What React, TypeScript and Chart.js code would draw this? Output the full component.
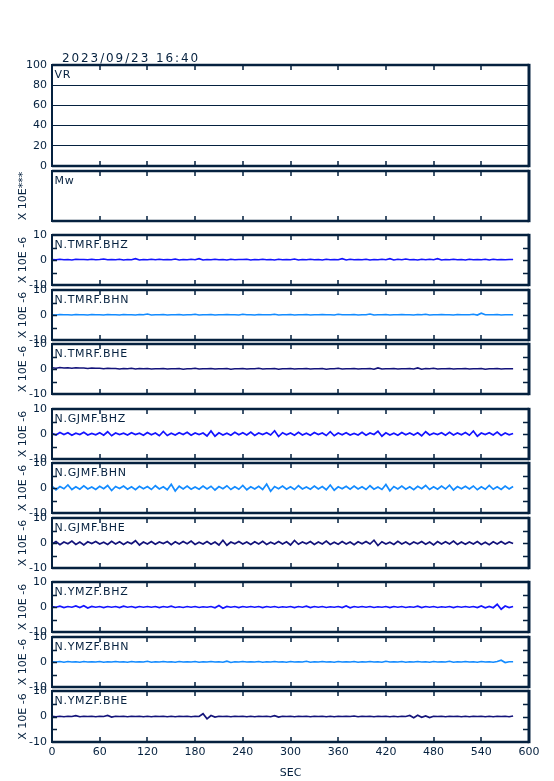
import React, { useEffect, useRef } from 'react';
import { Chart, registerables } from 'chart.js';

Chart.register(...registerables);

// ---------- text / tick data ----------
const TITLE_TEXT = '2023/09/23 16:40';
const X_AXIS_TITLE = 'SEC';
const X_TICK_VALUES = [0, 60, 120, 180, 240, 300, 360, 420, 480, 540, 600];
const VR_TICK_VALUES = [0, 20, 40, 60, 80, 100];
const SEIS_TICK_VALUES = [-10, -5, 0, 5, 10];
const SEIS_INNER_TICKS = [-5, 0, 5];
const VR_LABEL = 'VR';
const MW_LABEL = 'Mw';
const MW_UNIT = 'X 10E***';
const SEIS_UNIT = 'X 10E -6';
const SAMPLE_STEP_SEC = 5;
const CHANNELS = [
  'N.TMRF.BHZ', 'N.TMRF.BHN', 'N.TMRF.BHE',
  'N.GJMF.BHZ', 'N.GJMF.BHN', 'N.GJMF.BHE',
  'N.YMZF.BHZ', 'N.YMZF.BHN', 'N.YMZF.BHE',
];

// ---------- waveform values (X 10E-6), one sample every 5 s ----------
const TMRF_BHZ = [
  0.2,0.1,0.3,0.1,0.2,0.0,0.3,0.2,0.2,0.1,0.3,0.1,0.2,
  0.4,0.1,0.2,0.1,0.3,0.0,0.2,0.1,0.5,0.0,0.2,0.1,0.3,
  0.1,0.3,0.1,0.2,0.1,0.4,0.0,0.2,0.1,0.3,0.1,0.5,0.0,
  0.2,0.1,0.3,0.1,0.2,0.0,0.3,0.1,0.2,0.2,0.3,0.0,0.2,
  0.1,0.3,0.1,0.2,0.0,0.3,0.1,0.2,0.1,0.4,0.0,0.2,0.1,
  0.3,0.1,0.2,0.0,0.3,0.1,0.2,0.1,0.5,0.0,0.3,0.1,0.2,
  0.1,0.3,0.0,0.2,0.1,0.3,0.1,0.5,0.0,0.3,0.1,0.4,0.1,
  0.2,0.0,0.3,0.1,0.3,0.1,0.5,0.0,0.2,0.1,0.3,0.1,0.2,
  0.0,0.3,0.1,0.2,0.1,0.3,0.0,0.3,0.1,0.2,0.1,0.2,0.2,
];
const TMRF_BHN = [
  0.1,0.0,0.2,0.1,0.1,0.0,0.2,0.1,0.1,0.0,0.2,0.1,0.1,
  0.0,0.2,0.1,0.1,0.0,0.2,0.1,0.1,0.0,0.2,0.1,0.4,0.0,
  0.1,0.1,0.2,0.0,0.1,0.1,0.2,0.0,0.1,0.1,0.3,0.0,0.1,
  0.1,0.2,0.0,0.1,0.1,0.2,0.1,0.1,0.0,0.3,0.1,0.1,0.0,
  0.2,0.1,0.1,0.1,0.3,0.0,0.1,0.1,0.2,0.0,0.1,0.1,0.2,
  0.0,0.1,0.1,0.2,0.1,0.1,0.0,0.3,0.1,0.1,0.1,0.2,0.0,
  0.1,0.1,0.4,0.0,0.1,0.1,0.2,0.0,0.1,0.1,0.2,0.1,0.1,
  0.0,0.2,0.1,0.3,0.0,0.1,0.1,0.2,0.1,0.1,0.0,0.2,0.1,
  0.1,0.1,0.3,0.0,0.7,0.1,0.1,0.1,0.2,0.0,0.1,0.1,0.1,
];
const TMRF_BHE = [
  0.5,0.3,0.6,0.4,0.5,0.3,0.5,0.4,0.4,0.2,0.4,0.3,0.3,
  0.1,0.3,0.2,0.2,0.0,0.2,0.1,0.3,0.0,0.2,0.1,0.2,0.0,
  0.1,0.1,0.2,0.0,0.1,0.1,0.2,-0.1,0.1,0.1,0.3,0.0,0.1,
  0.1,0.2,0.0,0.1,0.1,0.2,-0.1,0.1,0.1,0.2,0.0,0.1,0.1,
  0.3,0.0,0.1,0.1,0.2,-0.1,0.1,0.1,0.2,0.0,0.1,0.1,0.2,
  0.0,0.1,0.1,0.2,-0.1,0.1,0.1,0.3,0.0,0.1,0.1,0.2,0.0,
  0.1,0.1,0.2,-0.1,0.4,0.0,0.1,0.1,0.2,0.0,0.1,0.1,0.2,
  0.0,0.4,-0.1,0.2,0.1,0.3,0.0,0.1,0.1,0.2,0.0,0.1,0.1,
  0.2,0.0,0.1,0.1,0.2,-0.1,0.1,0.1,0.2,0.0,0.1,0.1,0.1,
];
const GJMF_BHZ = [
  0.3,-0.4,0.6,-0.2,0.5,-0.5,0.3,-0.2,0.7,-0.4,0.2,-0.3,0.5,
  -0.5,0.9,-0.7,0.4,-0.2,0.3,-0.4,0.5,-0.2,0.3,-0.5,0.6,-0.3,
  0.4,-0.7,1.0,-0.6,0.3,-0.4,0.5,-0.2,0.7,-0.5,0.4,-0.2,0.4,
  -0.8,1.2,-0.9,0.5,-0.4,0.3,-0.5,0.7,-0.3,0.5,-0.4,0.8,-0.6,
  0.4,-0.2,0.5,-0.4,1.3,-1.0,0.5,-0.3,0.4,-0.5,0.7,-0.4,0.3,
  -0.5,0.6,-0.2,0.4,-0.6,0.9,-0.7,0.4,-0.3,0.5,-0.4,0.2,-0.4,
  0.7,-0.5,0.4,-0.2,1.1,-0.9,0.5,-0.4,0.3,-0.5,0.6,-0.3,0.4,
  -0.4,0.5,-0.7,0.9,-0.4,0.3,-0.2,0.5,-0.5,0.7,-0.4,0.4,-0.3,
  0.6,-0.5,1.2,-0.9,0.4,-0.2,0.5,-0.4,0.8,-0.6,0.4,-0.3,0.2,
];
const GJMF_BHN = [
  0.8,-0.7,0.6,-0.3,1.2,-0.6,0.5,-0.5,0.9,-0.4,0.4,-0.6,0.7,
  -0.3,1.0,-1.0,0.6,-0.2,0.8,-0.5,0.5,-0.7,0.7,-0.3,0.6,-0.6,
  0.9,-0.4,0.5,-0.7,1.5,-1.2,0.7,-0.4,0.8,-0.5,0.4,-0.5,0.8,
  -0.4,0.7,-0.8,0.6,-0.3,0.9,-0.6,0.5,-0.5,1.0,-0.7,0.5,-0.4,
  0.7,-0.6,1.6,-1.3,0.6,-0.3,0.8,-0.5,0.5,-0.6,0.9,-0.4,0.4,
  -0.5,0.8,-0.4,0.6,-0.7,1.2,-0.9,0.5,-0.3,0.7,-0.5,0.8,-0.4,
  0.5,-0.6,0.9,-0.5,0.4,-0.6,1.4,-1.1,0.6,-0.4,0.8,-0.5,0.5,
  -0.7,0.7,-0.3,1.0,-0.6,0.5,-0.5,0.8,-0.4,1.1,-0.8,0.6,-0.3,
  0.7,-0.4,0.8,-0.7,0.5,-0.5,1.0,-0.5,0.5,-0.6,0.8,-0.4,0.6,
];
const GJMF_BHE = [
  -0.4,0.6,-0.7,0.4,-0.3,0.8,-0.6,0.4,-0.8,0.5,-0.2,0.6,-0.4,
  0.3,-0.6,0.7,-0.4,0.5,-0.6,0.4,-0.3,0.9,-0.8,0.4,-0.4,0.6,
  -0.5,0.4,-0.2,0.6,-0.7,0.5,-0.4,0.6,-0.3,0.8,-0.6,0.3,-0.4,
  0.6,-0.5,0.4,-0.8,1.1,-0.9,0.4,-0.3,0.6,-0.4,0.4,-0.6,0.5,
  -0.4,0.7,-0.6,0.3,-0.4,0.6,-0.4,0.5,-0.8,1.0,-0.5,0.4,-0.3,
  0.6,-0.6,0.4,-0.4,0.8,-0.6,0.3,-0.5,0.6,-0.4,0.4,-0.7,0.5,
  -0.3,0.6,-0.4,1.1,-1.0,0.5,-0.4,0.3,-0.6,0.7,-0.4,0.4,-0.6,
  0.4,-0.3,0.6,-0.5,0.4,-0.8,0.6,-0.4,0.5,-0.4,0.8,-0.6,0.4,
  -0.5,0.4,-0.4,0.6,-0.6,0.3,-0.7,0.5,-0.4,0.6,-0.4,0.4,-0.2,
];
const YMZF_BHZ = [
  0.2,-0.1,0.3,-0.2,0.2,-0.1,0.4,-0.2,0.5,-0.4,0.2,-0.1,0.2,
  -0.2,0.2,-0.1,0.2,-0.2,0.3,-0.1,0.2,-0.2,0.2,-0.1,0.2,-0.1,
  0.2,-0.2,0.2,-0.1,0.3,-0.2,0.1,-0.2,0.2,-0.1,0.2,-0.2,0.1,
  -0.1,0.2,-0.3,0.6,-0.5,0.2,-0.1,0.2,-0.2,0.2,-0.1,0.2,-0.1,
  0.2,-0.2,0.2,-0.1,0.2,-0.2,0.1,-0.1,0.2,-0.2,0.2,-0.1,0.3,
  -0.2,0.2,-0.1,0.2,-0.2,0.1,-0.1,0.2,-0.2,0.4,-0.3,0.2,-0.1,
  0.2,-0.1,0.2,-0.2,0.1,-0.1,0.2,-0.2,0.2,-0.1,0.2,-0.2,0.1,
  -0.1,0.3,-0.2,0.2,-0.1,0.2,-0.2,0.1,-0.1,0.2,-0.2,0.2,-0.1,
  0.2,-0.1,0.2,-0.2,0.4,-0.3,0.2,-0.3,1.1,-0.9,0.4,-0.2,0.2,
];
const YMZF_BHN = [
  0.1,0.0,0.2,-0.1,0.2,0.0,0.1,-0.1,0.2,0.0,0.1,0.0,0.2,
  -0.1,0.1,0.0,0.2,0.0,0.1,-0.1,0.2,0.0,0.1,0.0,0.3,-0.1,
  0.1,0.0,0.2,0.0,0.1,-0.1,0.2,0.0,0.1,0.0,0.2,-0.1,0.1,
  0.0,0.2,0.0,0.1,-0.1,0.3,-0.2,0.1,0.0,0.2,0.0,0.1,0.0,
  0.2,-0.1,0.1,0.0,0.2,0.0,0.1,-0.1,0.2,0.0,0.1,0.0,0.3,
  -0.1,0.1,0.0,0.2,0.0,0.1,-0.1,0.2,0.0,0.1,0.0,0.2,-0.1,
  0.1,0.0,0.2,0.0,0.1,-0.1,0.3,0.0,0.1,0.0,0.2,-0.1,0.1,
  0.0,0.2,0.0,0.1,-0.1,0.2,0.0,0.1,0.0,0.3,-0.1,0.1,0.0,
  0.2,0.0,0.1,-0.1,0.2,0.0,0.1,-0.1,0.2,0.7,-0.2,0.1,0.1,
];
const YMZF_BHE = [
  0.1,-0.1,0.1,-0.1,0.1,0.0,0.3,-0.1,0.1,0.0,0.1,-0.1,0.1,
  0.0,0.4,-0.2,0.1,0.0,0.1,-0.1,0.1,0.0,0.1,-0.1,0.1,-0.1,
  0.1,0.0,0.1,-0.1,0.1,-0.1,0.1,0.0,0.1,-0.1,0.1,0.0,1.1,
  -0.9,0.4,-0.2,0.1,0.0,0.1,-0.1,0.1,0.0,0.1,-0.1,0.1,-0.1,
  0.1,0.0,0.1,-0.1,0.3,-0.2,0.1,0.0,0.1,-0.1,0.1,0.0,0.1,
  -0.1,0.1,0.0,0.1,-0.1,0.1,-0.1,0.1,0.0,0.1,0.0,0.2,-0.1,
  0.1,0.0,0.1,-0.1,0.1,0.0,0.1,-0.1,0.1,-0.1,0.1,0.0,0.4,
  -0.5,0.5,-0.3,0.2,-0.4,0.1,0.0,0.1,-0.1,0.1,0.0,0.1,-0.1,
  0.1,-0.1,0.1,0.0,0.1,-0.1,0.1,-0.1,0.1,0.0,0.1,-0.1,0.2,
];
const TRACES = [TMRF_BHZ, TMRF_BHN, TMRF_BHE, GJMF_BHZ, GJMF_BHN, GJMF_BHE, YMZF_BHZ, YMZF_BHN, YMZF_BHE];

// ---------- styling ----------
const NAVY = '#05213f';
const COMP_COLORS = ['#1414ff', '#138bff', '#13137a'];
const FONT = "'DejaVu Sans', sans-serif";

// panel frames (chart-area top/bottom in page pixels)
const LAYOUT = {
  vr: [65, 166],
  mw: [171, 221],
  seis: [
    [235, 285], [290, 340], [344, 394],
    [409, 459], [463, 513], [518, 568],
    [582, 632], [637, 687], [691, 742],
  ],
};

const framePlugin = {
  id: 'frame',
  afterDraw(chart: any, _args: any, opts: any) {
    const { ctx, chartArea } = chart;
    const { left, right, top, bottom } = chartArea;
    const x = chart.scales.x;
    const y = chart.scales.y;
    ctx.save();
    ctx.strokeStyle = NAVY;
    ctx.lineWidth = 1.5;
    ctx.beginPath();
    for (const v of X_TICK_VALUES) {
      if (v === 0 || v === 600) continue;
      const px = Math.round(x.getPixelForValue(v));
      ctx.moveTo(px, top);
      ctx.lineTo(px, top + 5);
      ctx.moveTo(px, bottom - 5);
      ctx.lineTo(px, bottom);
    }
    if (opts.yTicks) {
      for (const v of opts.yTicks) {
        const py = Math.round(y.getPixelForValue(v)) + 0.5;
        ctx.moveTo(left, py);
        ctx.lineTo(left + 5, py);
        ctx.moveTo(right - 6, py);
        ctx.lineTo(right, py);
      }
    }
    ctx.stroke();
    // frame
    ctx.lineWidth = 2.5;
    ctx.beginPath();
    ctx.moveTo(left, top);
    ctx.lineTo(right, top);
    ctx.moveTo(left, bottom);
    ctx.lineTo(right, bottom);
    ctx.stroke();
    ctx.lineWidth = 2;
    ctx.beginPath();
    ctx.moveTo(left, top - 1);
    ctx.lineTo(left, bottom + 1);
    ctx.stroke();
    ctx.lineWidth = 3;
    ctx.beginPath();
    ctx.moveTo(right, top - 1.2);
    ctx.lineTo(right, bottom + 1.2);
    ctx.stroke();
    // panel label
    ctx.fillStyle = NAVY;
    ctx.textBaseline = 'alphabetic';
    ctx.textAlign = 'left';
    ctx.font = `11px ${FONT}`;
    (ctx as any).letterSpacing = '0.7px';
    ctx.fillText(opts.label, left + 2.5, top + 12.5);
    if (opts.title) {
      ctx.font = `12px ${FONT}`;
      (ctx as any).letterSpacing = '1.9px';
      ctx.fillText(opts.title, 62, top - 3);
    }
    (ctx as any).letterSpacing = '0px';
    ctx.restore();
  },
};

type PanelProps = {
  top: number;
  bottom: number;
  kind: 'vr' | 'mw' | 'seis';
  label: string;
  values?: number[];
  color?: string;
  unit?: string;
  showX?: boolean;
  title?: string;
};

function Panel(p: PanelProps) {
  const ref = useRef<HTMLCanvasElement>(null);
  const padTop = p.title ? 22 : 14;
  const padBottom = 14;
  const canvasTop = p.top - padTop;
  const canvasBottom = p.showX ? 781 : p.bottom + padBottom;
  const h = canvasBottom - canvasTop;
  const xAxisH = 781 - p.bottom;

  useEffect(() => {
    if (!ref.current) return;
    const tickFont = { family: FONT, size: 11 };
    const yRange =
      p.kind === 'vr' ? { min: 0, max: 100 } : p.kind === 'mw' ? { min: 0, max: 1 } : { min: -10, max: 10 };
    const datasets = p.values
      ? [
          {
            data: p.values.map((v, i) => ({ x: i * SAMPLE_STEP_SEC, y: v })),
            borderColor: p.color,
            borderWidth: 1.7,
            pointRadius: 0,
            tension: 0,
            fill: false,
          },
        ]
      : [];
    const chart = new Chart(ref.current, {
      type: 'line',
      data: { datasets },
      plugins: [framePlugin as any],
      options: {
        responsive: false,
        maintainAspectRatio: false,
        animation: false,
        devicePixelRatio: 1,
        layout: { padding: { left: 0, right: 25, top: padTop, bottom: p.showX ? 0 : padBottom } },
        plugins: {
          legend: { display: false },
          tooltip: { enabled: false },
          title: { display: false },
          frame: {
            label: p.label,
            title: p.title,
            yTicks: p.kind === 'seis' ? SEIS_INNER_TICKS : null,
          },
        } as any,
        scales: {
          x: {
            type: 'linear',
            min: 0,
            max: 600,
            display: !!p.showX,
            afterFit: (s: any) => {
              s.height = p.showX ? xAxisH : 0;
            },
            grid: { display: false, drawTicks: false },
            border: { display: false },
            ticks: {
              stepSize: 60,
              autoSkip: false,
              maxRotation: 0,
              font: tickFont,
              color: NAVY,
              padding: 3.5,
            },
            title: {
              display: true,
              text: X_AXIS_TITLE,
              font: tickFont,
              color: NAVY,
              padding: { top: 0, bottom: 1.4 },
            },
          },
          y: {
            type: 'linear',
            position: 'left',
            ...yRange,
            afterFit: (s: any) => {
              s.width = 52;
            },
            afterBuildTicks: (s: any) => {
              if (p.kind === 'vr') s.ticks = VR_TICK_VALUES.map((v) => ({ value: v }));
              if (p.kind === 'seis') s.ticks = SEIS_TICK_VALUES.map((v) => ({ value: v }));
            },
            grid: {
              display: p.kind === 'vr',
              drawTicks: false,
              color: NAVY,
              lineWidth: 1,
            },
            border: { display: false },
            ticks: {
              display: p.kind !== 'mw',
              font: tickFont,
              color: NAVY,
              padding: 5,
            },
            title: {
              display: !!p.unit,
              text: p.unit || '',
              font: tickFont,
              color: NAVY,
              padding: { top: 16.4, bottom: 0 },
            },
          },
        },
      } as any,
    });
    return () => chart.destroy();
  }, []);

  return (
    <canvas
      ref={ref}
      width={554}
      height={h}
      style={{ position: 'absolute', left: 0, top: canvasTop, width: 554, height: h }}
    />
  );
}

export default function App() {
  return (
    <div style={{ position: 'absolute', left: 0, top: 0, width: 554, height: 781, background: '#fff', overflow: 'hidden' }}>
      <Panel top={LAYOUT.vr[0]} bottom={LAYOUT.vr[1]} kind="vr" label={VR_LABEL} title={TITLE_TEXT} />
      <Panel top={LAYOUT.mw[0]} bottom={LAYOUT.mw[1]} kind="mw" label={MW_LABEL} unit={MW_UNIT} />
      {CHANNELS.map((ch, i) => (
        <Panel
          key={ch}
          top={LAYOUT.seis[i][0]}
          bottom={LAYOUT.seis[i][1]}
          kind="seis"
          label={ch}
          values={TRACES[i]}
          color={COMP_COLORS[i % 3]}
          unit={SEIS_UNIT}
          showX={i === CHANNELS.length - 1}
        />
      ))}
    </div>
  );
}
